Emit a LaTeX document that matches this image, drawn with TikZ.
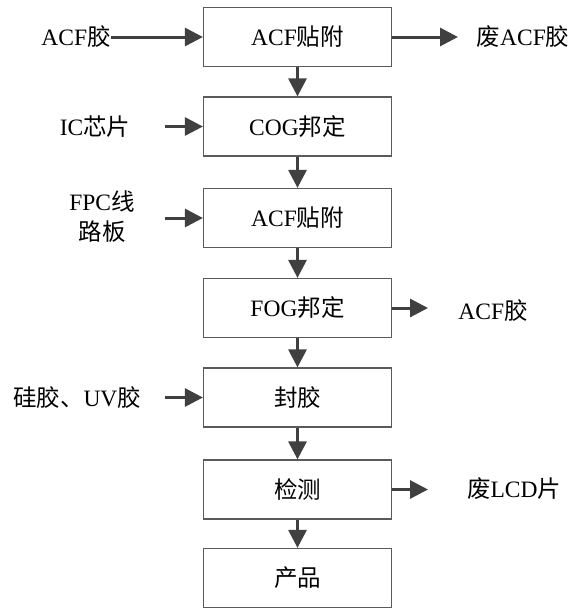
\documentclass[tikz,border=0pt]{standalone}
\usepackage{fontspec}
\setmainfont{Liberation Serif}
\newfontfamily\cjk{Noto Sans CJK SC}
\usetikzlibrary{arrows.meta}
\definecolor{boxgray}{HTML}{5A5A5A}
\definecolor{arrgray}{HTML}{404040}
\begin{document}
\begin{tikzpicture}[x=1pt,y=-1pt,
  stepbox/.style={draw=boxgray,line width=1.2pt,minimum width=188pt,minimum height=59pt,inner sep=0pt,font=\fontsize{23.5}{27}\selectfont},
  lbl/.style={inner sep=0pt,font=\fontsize{23.5}{30}\selectfont,align=center},
  flow/.style={draw=arrgray,line width=3pt,-{Triangle[length=18pt,width=18pt]}}]
\useasboundingbox (0,0) rectangle (572,608);
% process boxes
\node[stepbox] (b1) at (297.5,37)    {ACF{\cjk 贴附}};
\node[stepbox] (b2) at (297.5,126.5) {COG{\cjk 邦定}};
\node[stepbox] (b3) at (297.5,218)   {ACF{\cjk 贴附}};
\node[stepbox] (b4) at (297.5,308)   {FOG{\cjk 邦定}};
\node[stepbox] (b5) at (297.5,397.5) {{\cjk 封胶}};
\node[stepbox] (b6) at (297.5,489.5) {{\cjk 检测}};
\node[stepbox] (b7) at (297.5,578)   {{\cjk 产品}};
% vertical flow
\draw[flow] (b1.south) -- (b2.north);
\draw[flow] (b2.south) -- (b3.north);
\draw[flow] (b3.south) -- (b4.north);
\draw[flow] (b4.south) -- (b5.north);
\draw[flow] (b5.south) -- (b6.north);
\draw[flow] (b6.south) -- (b7.north);
% inputs
\node[lbl] (i1) at (76,37) {ACF{\cjk 胶}};
\node[lbl] (i2) at (95,127) {IC{\cjk 芯片}};
\node[lbl] (i3) at (102,217) {FPC{\cjk 线}\\{\cjk 路板}};
\node[lbl] (i5) at (77,398) {{\cjk 硅胶、}UV{\cjk 胶}};
\coordinate (c2) at (165,126.5);
\coordinate (c3) at (165,218);
\coordinate (c5) at (165,397.5);
\draw[flow] (i1.east) -- (b1.west);
\draw[flow] (c2) -- (b2.west);
\draw[flow] (c3) -- (b3.west);
\draw[flow] (c5) -- (b5.west);
% outputs
\coordinate (o1e) at (458,37);
\coordinate (o4e) at (428,308);
\coordinate (o6e) at (428,489.5);
\draw[flow] (b1.east) -- (o1e);
\draw[flow] (b4.east) -- (o4e);
\draw[flow] (b6.east) -- (o6e);
\node[lbl] (o1) at (523,37) {{\cjk 废}ACF{\cjk 胶}};
\node[lbl] (o4) at (493,311) {ACF{\cjk 胶}};
\node[lbl] (o6) at (514,489) {{\cjk 废}LCD{\cjk 片}};
\end{tikzpicture}
\end{document}
